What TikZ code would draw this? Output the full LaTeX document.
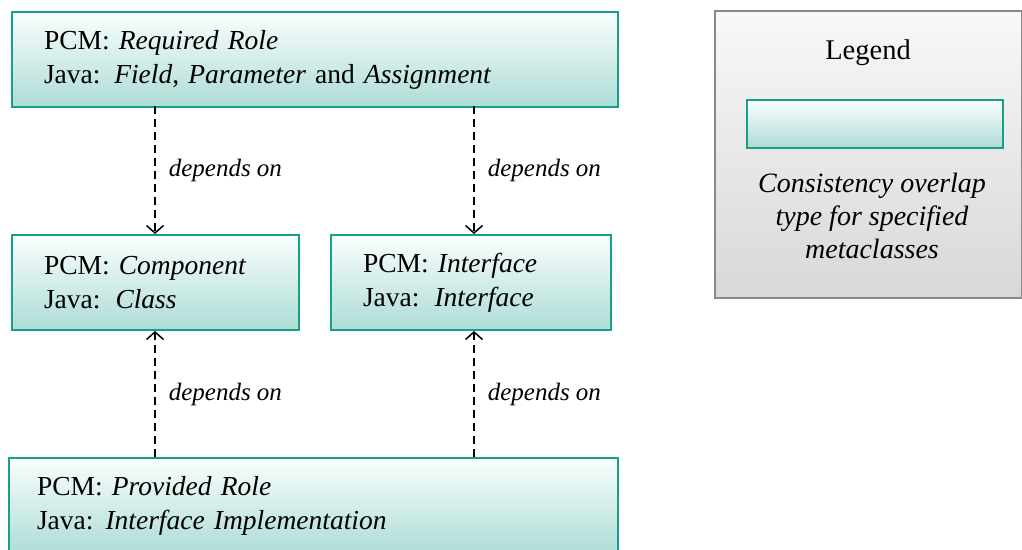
\documentclass[tikz,border=0pt]{standalone}
\usepackage{fontspec}
\setmainfont{Liberation Serif}
\usetikzlibrary{arrows.meta}
\definecolor{boxline}{HTML}{17A089}
\definecolor{boxtop}{HTML}{FAFEFD}
\definecolor{boxbot}{HTML}{ADDCD6}
\definecolor{legline}{HTML}{8A8A8A}
\definecolor{legtop}{HTML}{F8F8F8}
\definecolor{legbot}{HTML}{D8D8D8}
\tikzset{
  mbox/.style={draw=boxline, line width=2pt, top color=boxtop, bottom color=boxbot,
    rectangle, anchor=north west, align=left, inner xsep=32pt, inner ysep=0pt,
    font=\fontsize{27.5}{34}\selectfont},
  legbox/.style={draw=legline, line width=2pt, top color=legtop, bottom color=legbot,
    rectangle, anchor=north west, inner sep=0pt},
  dep/.style={dashed, dash pattern=on 8pt off 5pt, line width=1.6pt,
    -{Straight Barb[length=7.5pt,width=17pt,line width=1.5pt]}},
  deplabel/.style={anchor=west, font=\fontsize{25}{28}\selectfont\itshape, inner sep=0pt, xshift=13pt},
}
\begin{document}
\begin{tikzpicture}[x=1pt,y=-1pt]
\useasboundingbox (0,0) rectangle (1022,549);

% metaclass boxes
\node[mbox, minimum width=606pt, minimum height=95pt, text width=542pt] (req) at (11,11)
  {PCM: \textit{Required Role}\\Java: \textit{Field}, \textit{Parameter} and \textit{Assignment}};
\node[mbox, minimum width=287pt, minimum height=95pt, text width=223pt] (comp) at (11,234)
  {PCM: \textit{Component}\\Java:\hspace{15pt}\textit{Class}};
\node[mbox, minimum width=280pt, minimum height=95pt, text width=216pt] (intf) at (330,234)
  {PCM: \textit{Interface}\\Java:\hspace{15pt}\textit{Interface}};
\node[mbox, inner xsep=28pt, minimum width=609pt, minimum height=96pt, text width=553pt] (prov) at (8,457)
  {PCM: \textit{Provided Role}\\Java:\hspace{12pt}\textit{Interface Implementation}};

% dependencies
\coordinate (a1) at (155,106);
\coordinate (a2) at (474,106);
\draw[dep] (a1) -- (a1 |- comp.north) node[midway, deplabel] (l1) {depends on};
\draw[dep] (a2) -- (a2 |- intf.north) node[midway, deplabel] (l2) {depends on};
\draw[dep] (a1 |- prov.north) -- (a1 |- comp.south) node[midway, deplabel] (l3) {depends on};
\draw[dep] (a2 |- prov.north) -- (a2 |- intf.south) node[midway, deplabel] (l4) {depends on};

% legend
\node[legbox, minimum width=307pt, minimum height=287pt] (leg) at (714,10) {};
\node[font=\fontsize{28.5}{30}\selectfont] (legtitle) at (868,53) {Legend};
\node[draw=boxline, line width=2pt, top color=boxtop, bottom color=boxbot, rectangle,
  minimum width=256pt, minimum height=48pt, inner sep=0pt] (legsample) at (875,124) {};
\node[align=center, font=\fontsize{28}{33}\selectfont\itshape] (legtext) at (872,216)
  {Consistency overlap\\type for specified\\metaclasses};
\end{tikzpicture}
\end{document}
